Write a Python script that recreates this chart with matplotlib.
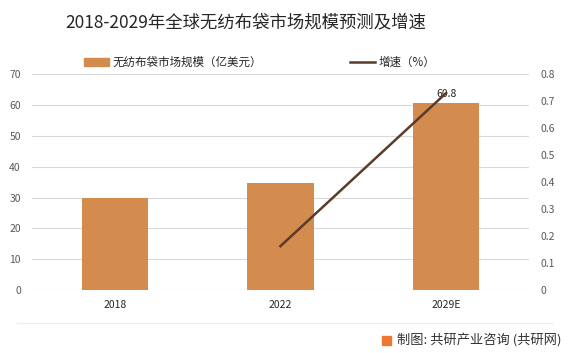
import matplotlib.pyplot as plt
import matplotlib.patches as mpatches
import matplotlib.lines as mlines
import numpy as np

plt.rcParams['font.family'] = ['Noto Sans CJK SC', 'DejaVu Sans']

years = ['2018', '2022', '2029E']
market_size = [29.9, 34.6, 60.8]      # 亿美元
growth_years = ['2022', '2029E']
growth_rate = [0.163, 0.73]

bar_color = '#D38B4E'
line_color = '#5B3B29'
grid_color = '#D9D9D9'
tick_color = '#595959'

fig = plt.figure(figsize=(5.7, 3.53), dpi=100)
ax = fig.add_axes([0.056, 0.178, 0.872, 0.612])

x = np.arange(len(years))
ax.bar(x, market_size, width=0.4, color=bar_color, zorder=2)
ax.set_xlim(-0.5, len(years) - 0.5)
ax.set_ylim(0, 70)
ax.set_yticks(range(0, 71, 10))
ax.yaxis.grid(True, color=grid_color, linewidth=0.8, zorder=0)
ax.set_xticks(x)
ax.set_xticklabels(years)
for s in ax.spines.values():
    s.set_visible(False)
ax.tick_params(axis='both', length=0, labelsize=7.5, colors=tick_color)
ax.tick_params(axis='x', colors='#262626', pad=7)
ax.tick_params(axis='y', pad=8)

ax2 = ax.twinx()
gx = [years.index(y) for y in growth_years]
ax2.plot(gx, growth_rate, color=line_color, linewidth=1.8, zorder=3)
ax2.set_ylim(0, 0.8)
ax2.set_yticks(np.arange(0, 0.81, 0.1))
ax2.set_yticklabels(['0'] + ['%.1f' % v for v in np.arange(0.1, 0.81, 0.1)])
for s in ax2.spines.values():
    s.set_visible(False)
ax2.tick_params(axis='y', length=0, labelsize=7.5, colors=tick_color, pad=8)

ax.text(x[-1], market_size[-1] + 1.3, '%.1f' % market_size[-1],
        ha='center', va='bottom', fontsize=7.5, color='#262626', zorder=5)

fig.text(0.432, 0.935, '2018-2029年全球无纺布袋市场规模预测及增速',
         ha='center', va='center', fontsize=12.5, color='#262626')

h1 = mpatches.Patch(color=bar_color, label='无纺布袋市场规模（亿美元）')
h2 = mlines.Line2D([], [], color=line_color, linewidth=1.8, label='增速（%）')
fig.legend(handles=[h1, h2], loc='center', bbox_to_anchor=(0.455, 0.823),
           ncol=2, frameon=False, fontsize=8.3, columnspacing=7.6,
           handlelength=2.2, handletextpad=0.3, labelcolor='#262626')

fig.add_artist(mlines.Line2D([0.03, 0.97], [0.085, 0.085], color='#EDEDED',
                             linewidth=0.8, transform=fig.transFigure))
fig.add_artist(mpatches.Rectangle((0.671, 0.022), 0.015, 0.026, color='#EE7733',
                                  transform=fig.transFigure))
fig.text(0.697, 0.036, '制图: 共研产业咨询 (共研网)', ha='left', va='center',
         fontsize=9.5, color='#333333')

fig.savefig('out.png', dpi=100)
